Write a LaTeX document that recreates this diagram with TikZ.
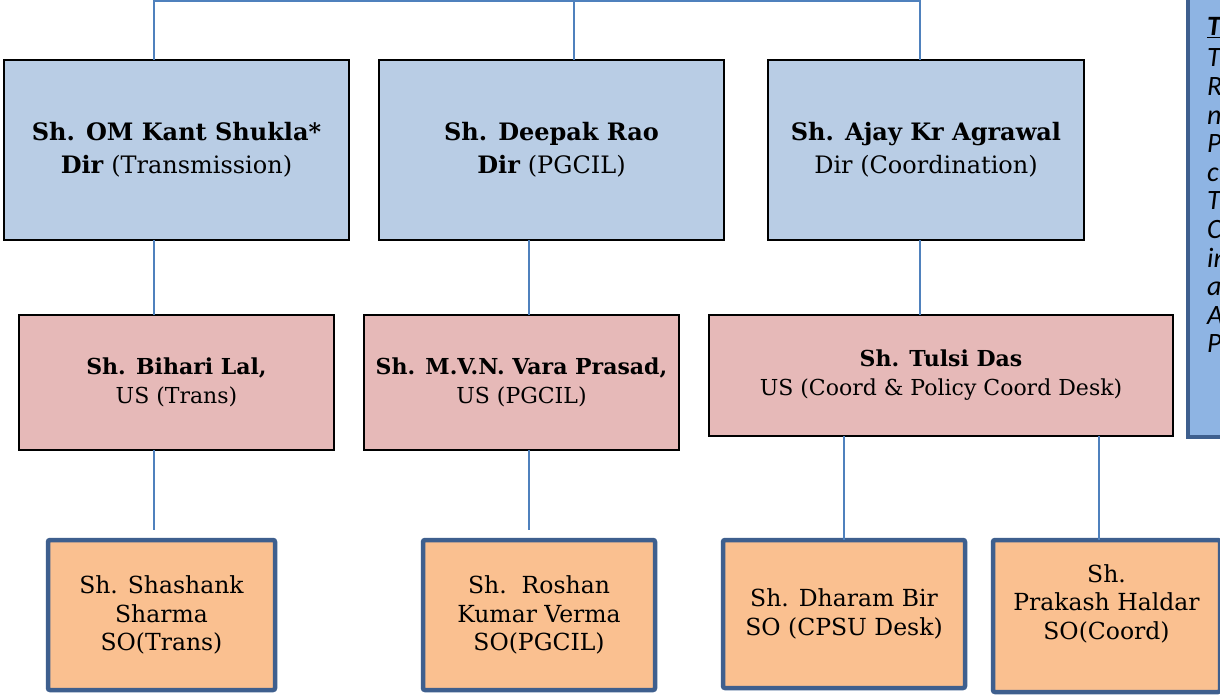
\documentclass[tikz,border=0pt]{standalone}
\usepackage{fontspec}
\setmainfont{DejaVu Serif}
\newfontfamily\notefont{Carlito}
\definecolor{dirfill}{HTML}{B9CDE5}
\definecolor{usfill}{HTML}{E6B9B8}
\definecolor{sofill}{HTML}{FAC090}
\definecolor{soedge}{HTML}{3E5F8E}
\definecolor{connc}{HTML}{4F81BD}
\definecolor{notefill}{HTML}{8EB4E3}
\tikzset{
  dirbox/.style={draw=black, line width=1.5pt, fill=dirfill, inner sep=0pt, outer sep=0pt, align=center, font=\fontsize{24}{32.5}\selectfont},
  usbox/.style={draw=black, line width=1.5pt, fill=usfill, inner sep=0pt, outer sep=0pt, align=center, font=\fontsize{22}{29}\selectfont},
  sobox/.style={draw=soedge, line width=4.5pt, rounded corners=2pt, fill=sofill, inner sep=0pt, outer sep=0pt, align=center, font=\fontsize{23.5}{28.5}\selectfont},
  conn/.style={draw=connc, line width=1.4pt},
}
\begin{document}
\begin{tikzpicture}[x=1pt, y=-1pt]
\clip (0,0) rectangle (1220,695);
\fill[white] (0,0) rectangle (1220,695);
% x positions of connectors
\coordinate (xa) at (154,0);
\coordinate (xb) at (574,0);
\coordinate (xc) at (920,0);
\coordinate (xd) at (529,0);
\coordinate (xe) at (844,0);
\coordinate (xf) at (1099,0);
\coordinate (topa) at (154,1);
\coordinate (topb) at (574,1);
\coordinate (topc) at (920,1);
% directors
\node[dirbox, minimum width=345, minimum height=180] (d1) at (176.5,150) {\textbf{Sh. OM Kant Shukla*}\\\textbf{Dir} (Transmission)};
\node[dirbox, minimum width=345, minimum height=180] (d2) at (551.5,150) {\textbf{Sh. Deepak Rao}\\\textbf{Dir} (PGCIL)};
\node[dirbox, minimum width=316, minimum height=180] (d3) at (926,150) {\textbf{Sh. Ajay Kr Agrawal}\\Dir (Coordination)};
% under secretaries
\node[usbox, minimum width=315, minimum height=135] (u1) at (176.5,382.5) {\textbf{Sh. Bihari Lal,}\\US (Trans)};
\node[usbox, minimum width=315, minimum height=135] (u2) at (521.5,382.5) {\textbf{Sh. M.V.N. Vara Prasad,}\\US (PGCIL)};
\node[usbox, minimum width=464, minimum height=121] (u3) at (941,375.5) {\textbf{Sh. Tulsi Das}\\US (Coord \& Policy Coord Desk)};
% section officers
\node[sobox, minimum width=227, minimum height=150] (s1) at (161.5,615) {Sh. Shashank\\Sharma\\SO(Trans)};
\node[sobox, minimum width=232, minimum height=150] (s2) at (539,615) {Sh.\ \ Roshan\\Kumar Verma\\SO(PGCIL)};
\node[sobox, minimum width=242, minimum height=148] (s3) at (844,614) {Sh. Dharam Bir\\SO (CPSU Desk)};
\node[sobox, minimum width=227, minimum height=152, text depth=28pt] (s4) at (1106.5,616) {Sh.\\Prakash Haldar\\SO(Coord)};
% note box
\node[draw=soedge, line width=4.5pt, fill=notefill, minimum width=80, minimum height=447, inner sep=0pt, outer sep=0pt] (note) at (1228,213.5) {};
\node[anchor=north west, inner sep=0pt, align=left, font=\notefont\itshape\fontsize{28}{28.6}\selectfont] (notetext) at (1207,17) {\textbf{\underline{T}}\\[3pt]T\\R\\n\\P\\c\\T\\C\\in\\a\\A\\P};
% connectors
\draw[conn] (d1.north -| xa) -- (topa) -- (topc) -- (d3.north -| xc);
\draw[conn] (topb) -- (d2.north -| xb);
\draw[conn] (d1.south -| xa) -- (u1.north -| xa);
\draw[conn] (d2.south -| xd) -- (u2.north -| xd);
\draw[conn] (d3.south -| xc) -- (u3.north -| xc);
\draw[conn] (u1.south -| xa) -- ([yshift=10pt]s1.north -| xa);
\draw[conn] (u2.south -| xd) -- ([yshift=10pt]s2.north -| xd);
\draw[conn] (u3.south -| xe) -- (s3.north -| xe);
\draw[conn] (u3.south -| xf) -- (s4.north -| xf);
\end{tikzpicture}
\end{document}
